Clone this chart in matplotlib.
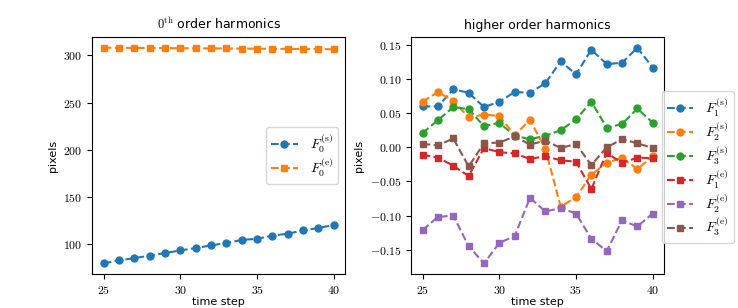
import matplotlib
matplotlib.use('Agg')
import matplotlib.pyplot as plt
from matplotlib.ticker import FormatStrFormatter, MultipleLocator

plt.rcParams['mathtext.fontset'] = 'cm'
plt.rcParams['font.family'] = ['DejaVu Sans']
plt.rcParams['lines.markersize'] = 5

steps = list(range(25, 41))

# zeroth order
F0_s = [79.9, 83.0, 85.5, 88.0, 90.8, 93.6, 96.1, 98.9, 101.4, 104.6, 106.0,
        109.2, 111.3, 114.8, 117.3, 120.5]
F0_e = [308.1, 308.0, 307.9, 307.8, 307.7, 307.6, 307.5, 307.4, 307.3, 307.2,
        307.1, 307.0, 306.9, 306.8, 306.7, 306.5]

# higher orders
F1_s = [0.060, 0.060, 0.085, 0.080, 0.059, 0.067, 0.081, 0.080, 0.094, 0.126,
        0.107, 0.143, 0.122, 0.124, 0.146, 0.117]
F2_s = [0.067, 0.081, 0.068, 0.044, 0.048, 0.046, 0.018, 0.040, -0.002, -0.087,
        -0.073, -0.040, -0.023, -0.015, -0.032, -0.013]
F3_s = [0.021, 0.040, 0.059, 0.056, 0.031, 0.036, 0.017, 0.012, 0.017, 0.025,
        0.041, 0.067, 0.029, 0.034, 0.057, 0.036]
F1_e = [-0.011, -0.015, -0.027, -0.042, -0.001, -0.007, -0.009, -0.017, -0.013,
        -0.019, -0.021, -0.061, -0.008, -0.023, -0.015, -0.016]
F2_e = [-0.121, -0.102, -0.100, -0.145, -0.170, -0.140, -0.130, -0.074, -0.094,
        -0.089, -0.097, -0.134, -0.152, -0.107, -0.116, -0.097]
F3_e = [0.005, 0.003, 0.013, -0.028, 0.006, 0.007, 0.016, 0.004, 0.010, -0.001,
        0.005, -0.026, 0.000, 0.012, 0.006, -0.001]

fig, (ax1, ax2) = plt.subplots(1, 2, figsize=(7.38, 3.08), dpi=100)
fig.subplots_adjust(left=0.125, right=0.9, bottom=0.11, top=0.88, wspace=0.26)

leg_kw = dict(fontsize=10, labelspacing=0.1, handlelength=1.9,
              handletextpad=0.9, borderpad=0.35)

ax1.plot(steps, F0_s, 'o--', color='C0', label=r'$F_0^{(\rm s)}$')
ax1.plot(steps, F0_e, 's--', color='C1', label=r'$F_0^{(\rm e)}$')
ax1.set_title(r'$0^{\rm th}$ order harmonics', fontsize=9)
ax1.set_ylabel('pixels', fontsize=8)
ax1.legend(loc='center right', **leg_kw)
ax1.yaxis.set_major_formatter(FormatStrFormatter('$%d$'))

series = [(F1_s, 'o', 'C0', r'$F_1^{(\rm s)}$'),
          (F2_s, 'o', 'C1', r'$F_2^{(\rm s)}$'),
          (F3_s, 'o', 'C2', r'$F_3^{(\rm s)}$'),
          (F1_e, 's', 'C3', r'$F_1^{(\rm e)}$'),
          (F2_e, 's', 'C4', r'$F_2^{(\rm e)}$'),
          (F3_e, 's', 'C5', r'$F_3^{(\rm e)}$')]
for vals, mk, col, lab in series:
    ax2.plot(steps, vals, marker=mk, ls='--', color=col, label=lab)
ax2.set_title('higher order harmonics', fontsize=9)
ax2.set_ylabel('pixels', fontsize=8)
ax2.legend(loc='center left', bbox_to_anchor=(0.99, 0.45), borderaxespad=0,
           **leg_kw)
ax2.yaxis.set_major_formatter(FormatStrFormatter('$%.2f$'))

for ax in (ax1, ax2):
    ax.set_xlabel('time step', fontsize=8, labelpad=0)
    ax.xaxis.set_major_locator(MultipleLocator(5))
    ax.xaxis.set_major_formatter(FormatStrFormatter('$%d$'))
    ax.tick_params(labelsize=8.5)

fig.savefig('out.png', dpi=100)
